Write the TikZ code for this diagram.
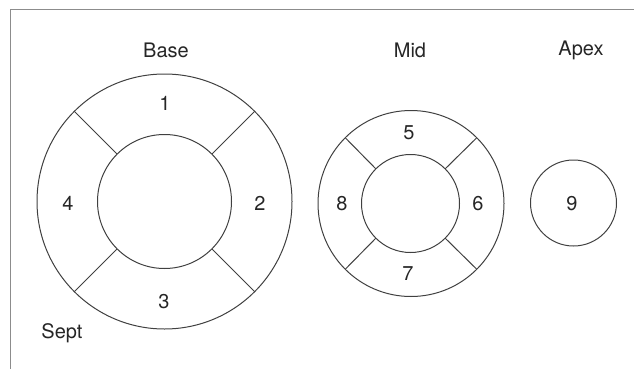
\documentclass[tikz,border=0pt]{standalone}
\usepackage{fontspec}
\setmainfont{TeX Gyre Heros}
\usetikzlibrary{positioning}

\begin{document}
\begin{tikzpicture}
[x=1pt,y=-1pt,
ring/.style={shape=circle,draw=black!75,line width=1pt,inner sep=0pt,outer sep=0pt},
lbl/.style={draw=none,text=black!85,font=\fontsize{20}{24}\selectfont}]

\useasboundingbox (0,0) rectangle (634,369);
% frame
\draw[black!45,line width=1pt] (10,369) -- (10,10) -- (634,10);

% base
\node[ring,minimum size=255pt] (baseout) at (164.5,201.5) {};
\node[ring,minimum size=134pt] (basein) at (164.5,201.5) {};
% mid
\node[ring,minimum size=186pt] (midout) at (411,203.5) {};
\node[ring,minimum size=98pt] (midin) at (410.5,203.5) {};
% apex
\node[ring,minimum size=86pt] (apex) at (573.5,203) {};

\path[draw=black!75,line width=1pt]
\foreach \a in {45,135,225,315}{
	(basein.\a) edge (baseout.\a)
	(midin.\a) edge (midout.\a)
};

\node[lbl] (base) at (166,50) {Base};
\node[lbl] (mid) at (410,50) {Mid};
\node[lbl] (apx) at (581,50) {Apex};
\node[lbl] (s1) at (165,103) {1};
\node[lbl] (s2) at (260,203) {2};
\node[lbl] (s3) at (164,302) {3};
\node[lbl] (s4) at (68,203) {4};
\node[lbl] (s5) at (409,133) {5};
\node[lbl] (s6) at (478,204) {6};
\node[lbl] (s7) at (408,274) {7};
\node[lbl] (s8) at (342,204) {8};
\node[lbl] (s9) at (572,204) {9};
\node[lbl] (sept) at (62,333) {Sept};
\end{tikzpicture}
\end{document}
